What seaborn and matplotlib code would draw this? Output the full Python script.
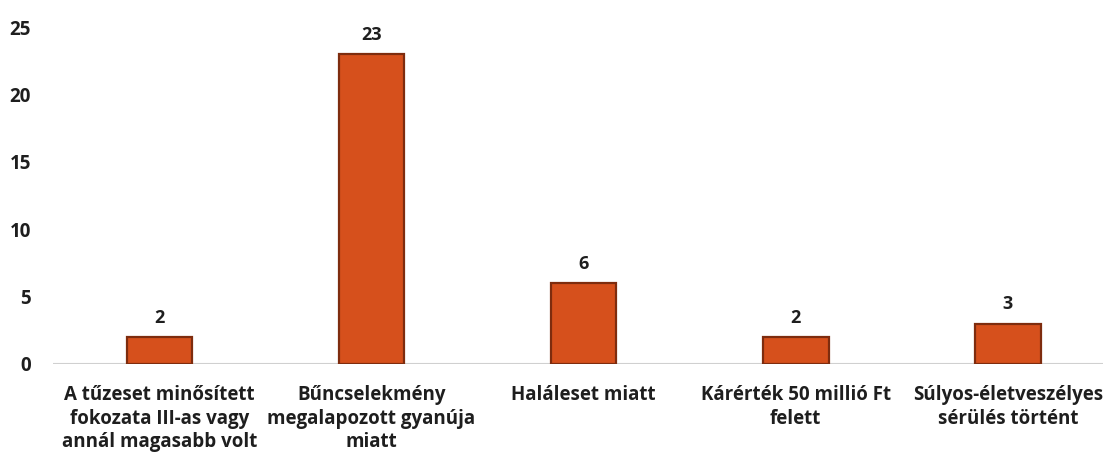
import matplotlib
matplotlib.use("Agg")
import matplotlib.pyplot as plt
import seaborn as sns
import pandas as pd

# categories and counts
categories = ["A tűzeset minősített\nfokozata III-as vagy\nannál magasabb volt",
              "Bűncselekmény\nmegalapozott gyanúja\nmiatt",
              "Haláleset miatt",
              "Kárérték 50 millió Ft\nfelett",
              "Súlyos-életveszélyes\nsérülés történt"]
counts = [2, 23, 6, 2, 3]
yticks = [0, 5, 10, 15, 20, 25]

df = pd.DataFrame({"kat": categories, "db": counts})

sns.set_theme(style="white")
plt.rcParams["font.family"] = ["Open Sans", "DejaVu Sans"]

fig = plt.figure(figsize=(11.11, 4.59), dpi=100)
ax = fig.add_axes([0.048, 0.207, 0.945, 0.734])

sns.barplot(data=df, x="kat", y="db", color="#D6501C", saturation=1,
            width=0.31, edgecolor="#7E2C0E", linewidth=1.6, ax=ax)

for i, v in enumerate(counts):
    ax.text(i, v + 0.75, str(v), ha="center", va="bottom",
            fontsize=13, fontweight="bold", color="#1E1E1E")

ax.set_ylim(0, 25)
ax.set_xlim(-0.5, 4.45)
ax.set_yticks(yticks)
ax.set_xlabel("")
ax.set_ylabel("")
for s in ["top", "right", "left", "bottom"]:
    ax.spines[s].set_visible(False)
ax.axhline(0, color="#D0D0D0", linewidth=1.5, zorder=0)
ax.tick_params(axis="both", length=0)
ax.tick_params(axis="y", pad=16)
ax.tick_params(axis="x", pad=15)
plt.setp(ax.get_yticklabels(), fontsize=13.5, fontweight="bold", color="#1E1E1E")
plt.setp(ax.get_xticklabels(), fontsize=13.5, fontweight="bold", color="#1E1E1E",
         linespacing=1.25)

fig.savefig("out.png", dpi=100)
